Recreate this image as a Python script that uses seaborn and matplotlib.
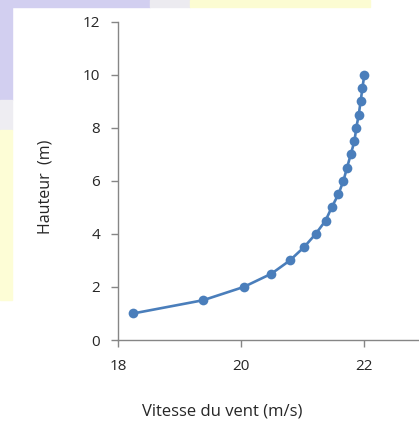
import matplotlib
matplotlib.use("Agg")
import matplotlib.pyplot as plt
import seaborn as sns
import pandas as pd
from matplotlib.patches import Rectangle

# Profil de vitesse du vent
vitesse = [18.24, 19.38, 20.04, 20.49, 20.79, 21.02, 21.21, 21.37, 21.47, 21.58,
           21.66, 21.72, 21.78, 21.84, 21.87, 21.91, 21.94, 21.97, 22.00]
hauteur = [1.0, 1.5, 2.0, 2.5, 3.0, 3.5, 4.0, 4.5, 5.0, 5.5,
           6.0, 6.5, 7.0, 7.5, 8.0, 8.5, 9.0, 9.5, 10.0]
x_ticks = [18, 20, 22]
y_ticks = [0, 2, 4, 6, 8, 10, 12]

data = pd.DataFrame({"vitesse": vitesse, "hauteur": hauteur})

sns.set_style("white")
plt.rcParams["font.family"] = ["Open Sans", "DejaVu Sans"]

W, H = 419, 421
fig = plt.figure(figsize=(W / 100, H / 100), dpi=100)

# fond décoratif (bandes en haut et à gauche)
def bande(x0, y0, x1, y1, couleur):
    fig.patches.append(Rectangle((x0 / W, 1 - y1 / H), (x1 - x0) / W, (y1 - y0) / H,
                                 transform=fig.transFigure, color=couleur, zorder=-1))

bande(0, 0, 150, 7, "#d2cff0")
bande(150, 0, 190, 7, "#ecebf0")
bande(190, 0, 370, 7, "#fcfcd2")
bande(0, 0, 12, 100, "#d2cff0")
bande(0, 100, 12, 130, "#eeedf2")
bande(0, 130, 12, 300, "#fdfdd6")

ax = fig.add_axes([118.3 / W, 1 - 340 / H, (W - 118.3) / W, (340 - 21.7) / H])
sns.lineplot(data=data, x="vitesse", y="hauteur", ax=ax, color="#4a7ebb",
             marker="o", markersize=7, markeredgewidth=0, linewidth=1.9,
             sort=False, estimator=None)

ax.set_xlim(18, 18 + (W - 118.3) / 61.5)
ax.set_ylim(0, 12)
ax.set_xticks(x_ticks)
ax.set_yticks(y_ticks)
ax.set_xlabel("Vitesse du vent (m/s)", fontsize=12)
ax.set_ylabel("Hauteur  (m)", fontsize=11.5)
ax.xaxis.set_label_coords((222 - 118.3) / (W - 118.3), -(412 - 340) / (340 - 21.7))
ax.yaxis.set_label_coords(-(118.3 - 45) / (W - 118.3), 0.48)
ax.xaxis.label.set_va("center")
ax.yaxis.label.set_va("center")
ax.tick_params(axis="both", labelsize=11, length=5, width=1, color="#868686",
               direction="out", bottom=True, left=True)
ax.tick_params(axis="y", pad=8)
ax.tick_params(axis="x", pad=9)

sns.despine(ax=ax)
for s in ["left", "bottom"]:
    ax.spines[s].set_color("#868686")
    ax.spines[s].set_linewidth(1)

fig.savefig("out.png", dpi=100)
